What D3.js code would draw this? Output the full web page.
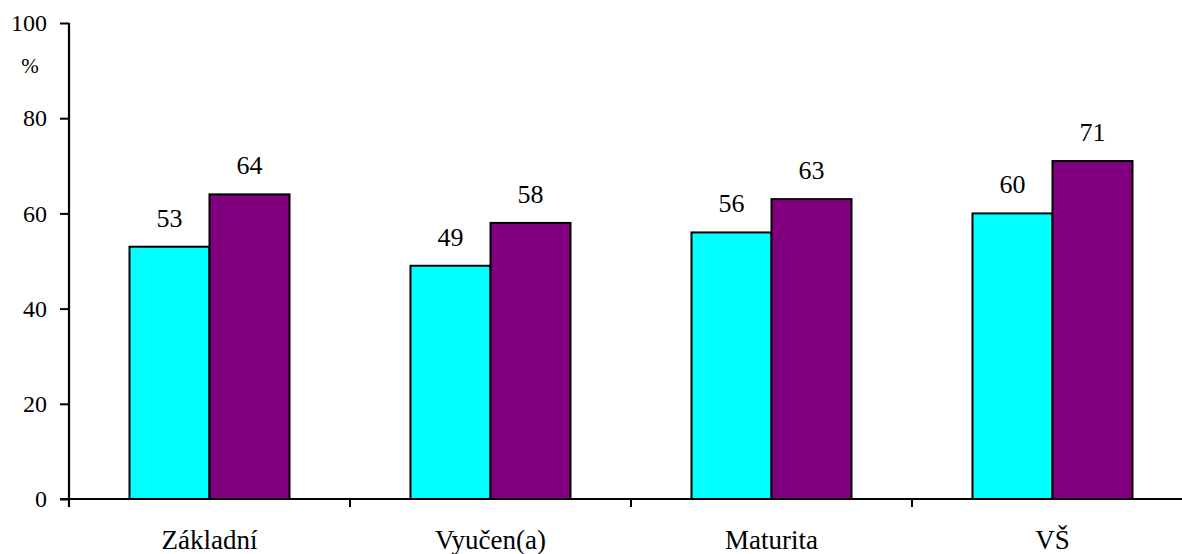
<!DOCTYPE html>
<html><head><meta charset="utf-8">
<script src="https://cdn.jsdelivr.net/npm/d3@7"></script>
<style>body{margin:0;background:#fff}svg{display:block}</style>
</head><body><svg id="c" width="1182" height="554"></svg>
<script>
const categories = ["Základní", "Vyučen(a)", "Maturita", "VŠ"];
const series1 = [53, 49, 56, 60];
const series2 = [64, 58, 63, 71];
const yTicks = [0, 20, 40, 60, 80, 100];
const colors = ["#00FFFF", "#800080"];

const FONT = '"Liberation Serif", "Times New Roman", serif';
const svg = d3.select("#c");
const x0 = 69, y0 = 499, yTop = 23, catW = 281;
const x = d3.scaleBand().domain(categories).range([x0, x0 + catW * categories.length]).padding(0);
const xs = d3.scaleBand().domain([0, 1]).range([0, catW]).paddingInner(0).paddingOuter(0.756);
const y = d3.scaleLinear().domain([0, 100]).range([y0, yTop]);

const data = categories.map((c, i) => ({c, v: [series1[i], series2[i]]}));

const g = svg.append("g");
data.forEach(d => {
  d.v.forEach((v, k) => {
    g.append("rect")
      .attr("x", x(d.c) + xs(k)).attr("y", y(v))
      .attr("width", xs.bandwidth()).attr("height", y(0) - y(v))
      .attr("fill", colors[k]).attr("stroke", "#000").attr("stroke-width", 2);
    g.append("text")
      .attr("x", x(d.c) + xs(k) + xs.bandwidth() / 2).attr("y", y(v) - 20)
      .attr("text-anchor", "middle")
      .style("font-family", FONT).style("font-size", "26px").style("fill", "#000").text(v);
  });
});

// Y axis
const ya = svg.append("g").attr("transform", `translate(${x0},0)`)
  .call(d3.axisLeft(y).tickValues(yTicks).tickSize(9).tickPadding(13).tickFormat(d3.format("d")));
ya.select(".domain").attr("stroke-width", 2.2).attr("d", `M0,${yTop}V${y0 + 8}`);
ya.selectAll(".tick line").attr("stroke-width", 2);
ya.selectAll(".tick text").style("font-family", FONT).style("font-size", "24px").style("fill", "#000");

// X axis
const xa = svg.append("g").attr("transform", `translate(0,${y0})`)
  .call(d3.axisBottom(x).tickSize(0).tickPadding(31));
xa.select(".domain").attr("stroke-width", 2.2).attr("d", `M${x0 - 9},0H1182`);
xa.selectAll(".tick text").style("font-family", FONT).style("font-size", "27px").style("fill", "#000").attr("dy", "0.71em");
const sepTicks = categories.map(c => x(c));
xa.selectAll(".sep").data(sepTicks).enter().append("line").attr("class", "sep")
  .attr("x1", d => d).attr("x2", d => d).attr("y1", 0).attr("y2", 8)
  .attr("stroke", "#000").attr("stroke-width", 2);

svg.append("text").attr("x", 30).attr("y", 73).attr("text-anchor", "middle")
  .style("font-family", FONT).style("font-size", "21px").style("fill", "#000").text("%");
</script></body></html>
